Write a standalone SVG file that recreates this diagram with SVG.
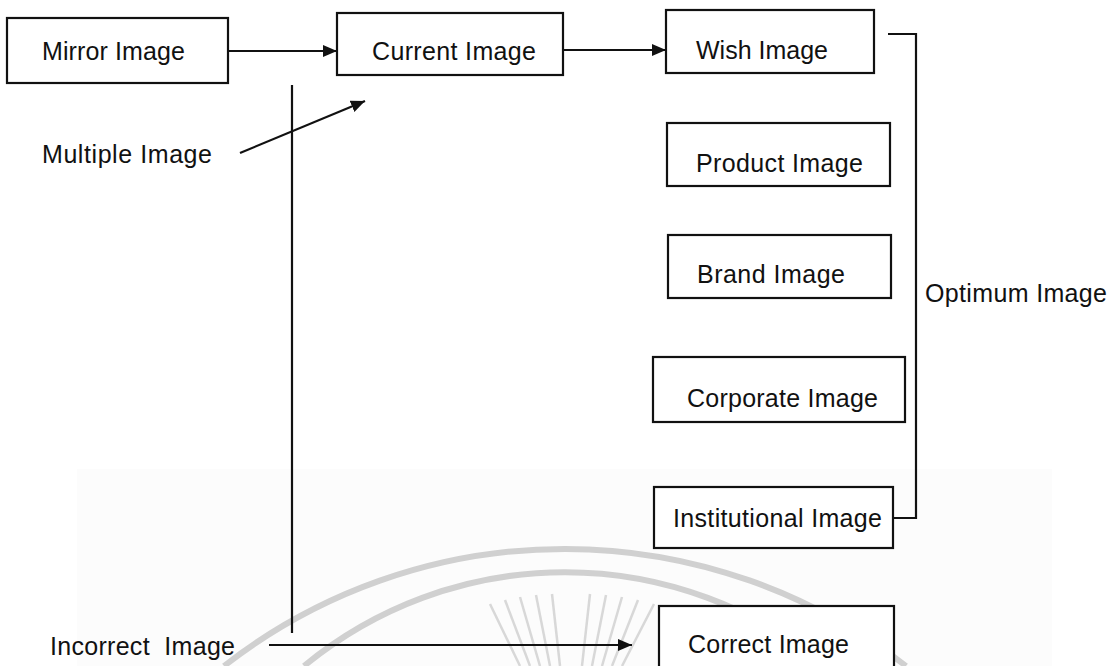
<svg xmlns="http://www.w3.org/2000/svg" width="1112" height="666" viewBox="0 0 1112 666">
  <style>
    .box { fill: #ffffff; stroke: #111111; stroke-width: 2.2; }
    .label { font-family: "Liberation Sans", Arial, Helvetica, sans-serif; font-size: 25px; fill: #111111; }
    .link { fill: none; stroke: #111111; stroke-width: 2.2; }
    .mark { fill: none; stroke: #d0d0d0; stroke-width: 6; }
    .ray { fill: none; stroke: #d8d8d8; stroke-width: 2.5; }
  </style>
  <defs>
    <marker id="head" markerUnits="userSpaceOnUse" markerWidth="15" markerHeight="14" refX="14" refY="7" orient="auto">
      <path d="M0,1 L14,7 L0,13 z" fill="#111111"/>
    </marker>
  </defs>

  <rect width="1112" height="666" fill="#ffffff"/>

  <!-- faint emblem in the lower half -->
  <g id="emblem">
    <rect x="77" y="469" width="975" height="197" fill="#fcfcfc"/>
    <path class="mark" d="M224,666 A555,555 0 0,1 906,666"/>
    <path class="mark" d="M304,666 A410,410 0 0,1 826,666"/>
    <g class="ray">
      <line x1="490" y1="604" x2="520" y2="666"/>
      <line x1="505" y1="600" x2="530" y2="666"/>
      <line x1="520" y1="597" x2="540" y2="666"/>
      <line x1="536" y1="595" x2="550" y2="666"/>
      <line x1="552" y1="594" x2="560" y2="666"/>
      <line x1="590" y1="594" x2="582" y2="666"/>
      <line x1="606" y1="595" x2="592" y2="666"/>
      <line x1="622" y1="597" x2="602" y2="666"/>
      <line x1="638" y1="600" x2="612" y2="666"/>
      <line x1="654" y1="604" x2="622" y2="666"/>
    </g>
  </g>

  <g id="connectors">
    <line class="link" x1="228" y1="51" x2="337" y2="51" marker-end="url(#head)"/>
    <line class="link" x1="563" y1="50" x2="666" y2="50" marker-end="url(#head)"/>
    <line class="link" x1="240" y1="153" x2="365" y2="101" marker-end="url(#head)"/>
    <line class="link" x1="292" y1="85" x2="292" y2="633"/>
    <line class="link" x1="269" y1="645" x2="632" y2="645" marker-end="url(#head)"/>
    <path class="link" d="M888,34 H916 V518 H893"/>
  </g>

  <g id="mirror">
    <rect class="box" x="7" y="18" width="221" height="65"/>
    <text class="label" x="42" y="60" textLength="143">Mirror Image</text>
  </g>
  <g id="current">
    <rect class="box" x="337" y="13" width="226" height="62"/>
    <text class="label" x="372" y="60" textLength="164">Current Image</text>
  </g>
  <g id="wish">
    <rect class="box" x="666" y="10" width="208" height="63"/>
    <text class="label" x="696" y="59" textLength="132">Wish Image</text>
  </g>
  <g id="multiple">
    <text class="label" x="42" y="163" textLength="170">Multiple Image</text>
  </g>
  <g id="product">
    <rect class="box" x="667" y="123" width="223" height="63"/>
    <text class="label" x="696" y="172" textLength="167">Product Image</text>
  </g>
  <g id="brand">
    <rect class="box" x="668" y="235" width="223" height="63"/>
    <text class="label" x="697" y="283" textLength="148">Brand Image</text>
  </g>
  <g id="optimum">
    <text class="label" x="925" y="302" textLength="182">Optimum Image</text>
  </g>
  <g id="corporate">
    <rect class="box" x="653" y="357" width="252" height="65"/>
    <text class="label" x="687" y="407" textLength="191">Corporate Image</text>
  </g>
  <g id="institutional">
    <rect class="box" x="654" y="487" width="239" height="61"/>
    <text class="label" x="673" y="527" textLength="209">Institutional Image</text>
  </g>
  <g id="incorrect">
    <text class="label" x="50" y="655" textLength="185" xml:space="preserve">Incorrect  Image</text>
  </g>
  <g id="correct">
    <rect class="box" x="659" y="606" width="235" height="70"/>
    <text class="label" x="688" y="653" textLength="161">Correct Image</text>
  </g>
</svg>
